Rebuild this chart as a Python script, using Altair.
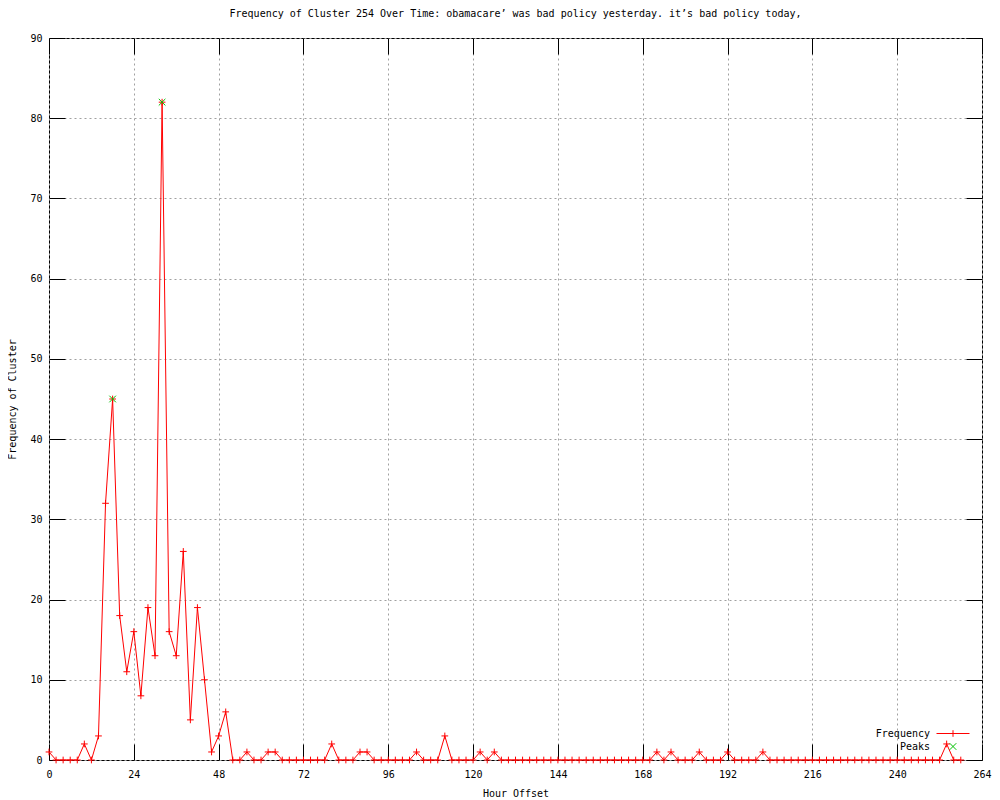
import altair as alt
import pandas as pd

# ---------------- data ----------------
hours = [
    0, 2, 4, 6, 8, 10, 12, 14, 16, 18,
    20, 22, 24, 26, 28, 30, 32, 34, 36, 38,
    40, 42, 44, 46, 48, 50, 52, 54, 56, 58,
    60, 62, 64, 66, 68, 70, 72, 74, 76, 78,
    80, 82, 84, 86, 88, 90, 92, 94, 96, 98,
    100, 102, 104, 106, 108, 110, 112, 114, 116, 118,
    120, 122, 124, 126, 128, 130, 132, 134, 136, 138,
    140, 142, 144, 146, 148, 150, 152, 154, 156, 158,
    160, 162, 164, 166, 168, 170, 172, 174, 176, 178,
    180, 182, 184, 186, 188, 190, 192, 194, 196, 198,
    200, 202, 204, 206, 208, 210, 212, 214, 216, 218,
    220, 222, 224, 226, 228, 230, 232, 234, 236, 238,
    240, 242, 244, 246, 248, 250, 252, 254, 256, 258,
]
frequency = [
    1, 0, 0, 0, 0, 2, 0, 3, 32, 45,
    18, 11, 16, 8, 19, 13, 82, 16, 13, 26,
    5, 19, 10, 1, 3, 6, 0, 0, 1, 0,
    0, 1, 1, 0, 0, 0, 0, 0, 0, 0,
    2, 0, 0, 0, 1, 1, 0, 0, 0, 0,
    0, 0, 1, 0, 0, 0, 3, 0, 0, 0,
    0, 1, 0, 1, 0, 0, 0, 0, 0, 0,
    0, 0, 0, 0, 0, 0, 0, 0, 0, 0,
    0, 0, 0, 0, 0, 0, 1, 0, 1, 0,
    0, 0, 1, 0, 0, 0, 1, 0, 0, 0,
    0, 1, 0, 0, 0, 0, 0, 0, 0, 0,
    0, 0, 0, 0, 0, 0, 0, 0, 0, 0,
    0, 0, 0, 0, 0, 0, 0, 2, 0, 0,
]
peak_hours = [18, 32]
peak_values = [45, 82]

series_names = ["Frequency", "Peaks"]
series_colors = ["#ff0000", "#00c000"]

x_ticks = [0, 24, 48, 72, 96, 120, 144, 168, 192, 216, 240, 264]
y_ticks = [0, 10, 20, 30, 40, 50, 60, 70, 80, 90]
x_domain = [0, 264]
y_domain = [0, 90]

title_text = "Frequency of Cluster 254 Over Time: obamacare\u2019 was bad policy yesterday. it\u2019s bad policy today,"

FONT = "DejaVu Sans Mono"
PLUS = "M-1,0L1,0M0,-1L0,1"
LINE_PLUS = "M-3.3,0L3.3,0M0,-0.66L0,0.66"
CROSS = "M-0.66,-0.66L0.66,0.66M-0.66,0.66L0.66,-0.66"

freq_df = pd.DataFrame({"hour": hours, "freq": frequency})
peaks_df = pd.DataFrame({"hour": peak_hours, "freq": peak_values,
                         "series": ["Peaks"] * len(peak_hours)})

xs = alt.Scale(domain=x_domain, nice=False, zero=False)
ys = alt.Scale(domain=y_domain, nice=False, zero=False)

GRID = dict(grid=True, gridColor="#a0a0a0", gridDash=[2, 3], gridWidth=1)


def make_legend():
    return alt.Legend(title=None, orient="none", legendX=898.5, legendY=690,
                      labelAlign="right", labelOffset={"expr": "-28.5"}, symbolOffset=0,
                      symbolSize=100, symbolStrokeWidth=1, symbolOpacity=1,
                      rowPadding=2, padding=0,
                      labelFont=FONT, labelFontSize=10, labelColor="black")


# main layer: line, labels, titles, grid
line = alt.Chart(freq_df).mark_line(color="#ff0000", strokeWidth=1).encode(
    x=alt.X("hour:Q", scale=xs, title="Hour Offset",
            axis=alt.Axis(orient="bottom", values=x_ticks, ticks=False, tickSize=0,
                          labelPadding=9, titlePadding=9, domain=False,
                          labelFlush=False, labelOverlap=False, **GRID)),
    y=alt.Y("freq:Q", scale=ys, title="Frequency of Cluster",
            axis=alt.Axis(orient="left", values=y_ticks, ticks=False, tickSize=0,
                          labelPadding=7, titlePadding=12, domain=False,
                          labelFlush=False, labelOverlap=False, **GRID)),
)

# frequency "+" markers, carrying inward ticks on bottom/left
freq_pts = alt.Chart(freq_df).mark_point(
    shape=PLUS, size=45, color="#ff0000", filled=False, strokeWidth=1, opacity=1
).encode(
    x=alt.X("hour:Q", scale=xs, title=None,
            axis=alt.Axis(orient="bottom", values=x_ticks, offset=-16, tickSize=16,
                          tickColor="black", labels=False, grid=False, domain=False)),
    y=alt.Y("freq:Q", scale=ys, title=None,
            axis=alt.Axis(orient="left", values=y_ticks, offset=-16, tickSize=16,
                          tickColor="black", labels=False, grid=False, domain=False)),
)

# peaks "x" markers + legend, carrying inward ticks on top/right
peaks = alt.Chart(peaks_df).mark_point(
    size=100, filled=False, strokeWidth=1, opacity=1
).encode(
    x=alt.X("hour:Q", scale=xs, title=None,
            axis=alt.Axis(orient="top", values=x_ticks, offset=-16, tickSize=16,
                          tickColor="black", labels=False, grid=False, domain=False)),
    y=alt.Y("freq:Q", scale=ys, title=None,
            axis=alt.Axis(orient="right", values=y_ticks, offset=-16, tickSize=16,
                          tickColor="black", labels=False, grid=False, domain=False)),
    color=alt.Color("series:N", scale=alt.Scale(domain=series_names, range=series_colors),
                    legend=make_legend()),
    shape=alt.Shape("series:N", scale=alt.Scale(domain=series_names, range=[LINE_PLUS, CROSS]),
                    legend=make_legend()),
)

chart = alt.layer(line, freq_pts, peaks).resolve_axis(
    x="independent", y="independent"
).properties(
    width=933, height=722,
    title=alt.Title(title_text, font=FONT, fontSize=10, fontWeight="normal",
                    color="black", anchor="middle", offset=14),
    autosize=alt.AutoSizeParams(type="none"),
    padding={"left": 41, "top": 30, "right": 10, "bottom": 40},
).configure(
    background="white"
).configure_view(
    stroke="black", strokeWidth=1
).configure_axis(
    labelFont=FONT, labelFontSize=10, labelColor="black",
    titleFont=FONT, titleFontSize=10, titleFontWeight="normal", titleColor="black",
    tickColor="black", tickWidth=1,
)

chart.save("out.html", embed_options={"renderer": "svg", "actions": False})
